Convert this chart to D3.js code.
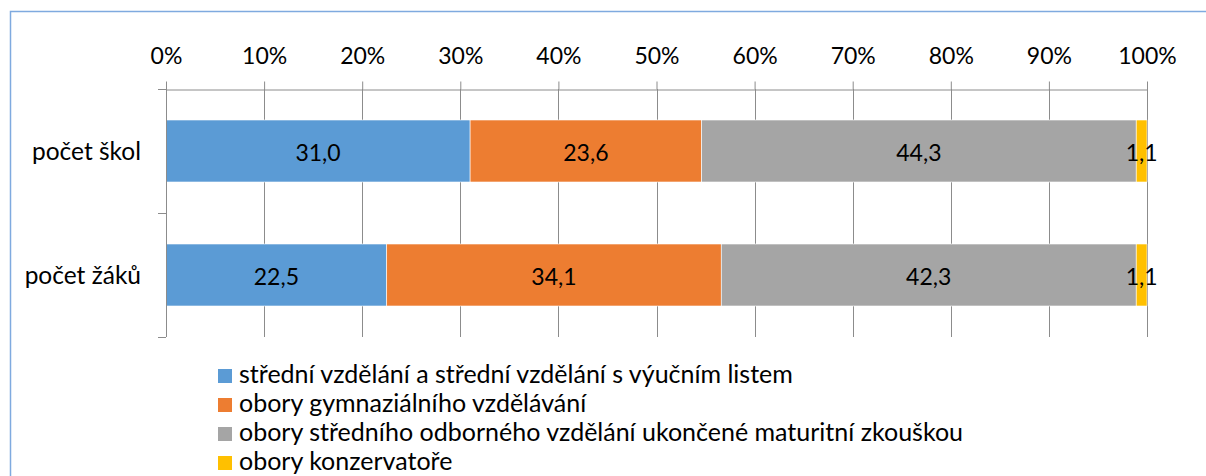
<!DOCTYPE html>
<html>
<head>
<meta charset="utf-8">
<script src="https://cdn.jsdelivr.net/npm/d3@7"></script>
<style>
  html, body { margin: 0; padding: 0; background: #fff; }
  svg { display: block; font-family: Lato, "Open Sans", sans-serif; }
</style>
</head>
<body>
<svg id="chart" width="1206" height="476"></svg>
<script>
// data
const categories = ["počet škol", "počet žáků"];
const seriesNames = [
  "střední vzdělání a střední vzdělání s výučním listem",
  "obory gymnaziálního vzdělávání",
  "obory středního odborného vzdělání ukončené maturitní zkouškou",
  "obory konzervatoře"
];
const seriesColors = ["#5B9BD5", "#ED7D31", "#A5A5A5", "#FFC000"];
const valuesSkol = [31.0, 23.6, 44.3, 1.1];
const valuesZaku = [22.5, 34.1, 42.3, 1.1];
const tickValues = [0, 10, 20, 30, 40, 50, 60, 70, 80, 90, 100];

const svg = d3.select("#chart");

// outer frame (cut off on right and bottom like the screenshot)
svg.append("rect")
  .attr("x", 10.5).attr("y", 11.5)
  .attr("width", 1400).attr("height", 700)
  .attr("fill", "none").attr("stroke", "#7FAADF").attr("stroke-width", 1.5);

const plotLeft = 166, plotRight = 1147, plotTop = 89, plotBottom = 337;

const x = d3.scaleLinear().domain([0, 100]).range([plotLeft, plotRight]);
const y = d3.scaleBand().domain(categories).range([plotTop, plotBottom]).padding(0);

// gridlines
svg.append("g").selectAll("line")
  .data(tickValues.slice(1))
  .enter().append("line")
  .attr("x1", d => Math.round(x(d)) + 0.5).attr("x2", d => Math.round(x(d)) + 0.5)
  .attr("y1", plotTop).attr("y2", plotBottom)
  .attr("stroke", "#8C8C8C").attr("stroke-width", 1);

// stacked bars
const rows = [valuesSkol, valuesZaku];
const barH = y.bandwidth() * 0.5;
rows.forEach((vals, ri) => {
  const cat = categories[ri];
  const y0 = y(cat) + (y.bandwidth() - barH) / 2;
  let acc = 0;
  vals.forEach((v, si) => {
    const x0 = x(acc), x1 = x(acc + v);
    svg.append("rect")
      .attr("x", x0).attr("y", y0)
      .attr("width", x1 - x0).attr("height", barH)
      .attr("fill", seriesColors[si])
      .attr("stroke", "#fff").attr("stroke-width", 0.6);
    svg.append("text")
      .attr("x", (x0 + x1) / 2).attr("y", y0 + barH / 2 + 9.5)
      .attr("text-anchor", "middle")
      .attr("font-size", 23).attr("fill", "#000")
      .text(v.toFixed(1).replace(".", ","));
    acc += v;
  });
});

// top axis
const xAxis = svg.append("g")
  .attr("transform", `translate(0,${plotTop + 0.5})`)
  .call(d3.axisTop(x).tickValues(tickValues).tickFormat(d => d + "%").tickSize(8).tickSizeOuter(0).tickPadding(18));
xAxis.select(".domain").attr("stroke", "#8C8C8C");
xAxis.selectAll(".tick line").attr("stroke", "#8C8C8C");
xAxis.selectAll(".tick text").attr("font-size", 23).attr("fill", "#000").attr("font-family", "Lato, sans-serif");

// left category axis: line + boundary ticks
svg.append("line")
  .attr("x1", plotLeft + 0.5).attr("x2", plotLeft + 0.5)
  .attr("y1", plotTop).attr("y2", plotBottom)
  .attr("stroke", "#8C8C8C");
const bounds = categories.map(c => y(c)).concat([plotBottom]);
svg.append("g").selectAll("line")
  .data(bounds)
  .enter().append("line")
  .attr("x1", plotLeft - 8).attr("x2", plotLeft)
  .attr("y1", d => d + 0.5).attr("y2", d => d + 0.5)
  .attr("stroke", "#8C8C8C");
svg.append("g").selectAll("text")
  .data(categories)
  .enter().append("text")
  .attr("x", 141).attr("y", d => y(d) + y.bandwidth() / 2 + 9)
  .attr("text-anchor", "end")
  .attr("font-size", 24.5).attr("fill", "#000")
  .text(d => d);

// legend
const legend = svg.append("g");
seriesNames.forEach((name, i) => {
  const base = 383 + i * 29;
  legend.append("rect")
    .attr("x", 218).attr("y", base - 14)
    .attr("width", 14).attr("height", 14)
    .attr("fill", seriesColors[i]);
  legend.append("text")
    .attr("x", 239).attr("y", base)
    .attr("font-size", 25).attr("fill", "#000")
    .text(name);
});
</script>
</body>
</html>
